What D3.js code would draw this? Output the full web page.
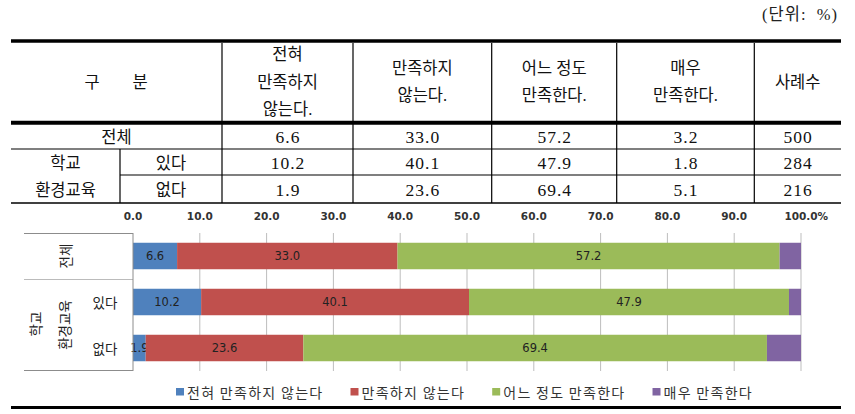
<!DOCTYPE html>
<html><head><meta charset="utf-8">
<script src="https://cdn.jsdelivr.net/npm/d3@7"></script>
<style>
body{margin:0;background:#fff;}
svg{display:block;}
</style></head>
<body>
<script>
// ---- data ----
const rowLabels = ["전체", "있다", "없다"];
const groupLabel = ["학교", "환경교육"];
const seriesNames = ["전혀 만족하지 않는다", "만족하지 않는다", "어느 정도 만족한다", "매우 만족한다"];
const headerLines = [["전혀", "만족하지", "않는다."], ["만족하지", "않는다."], ["어느 정도", "만족한다."], ["매우", "만족한다."], ["사례수"]];
const notAtAll = [6.6, 10.2, 1.9];
const notSatisfied = [33.0, 40.1, 23.6];
const somewhat = [57.2, 47.9, 69.4];
const very = [3.2, 1.8, 5.1];
const cases = [500, 284, 216];
const xTicks = [0, 10, 20, 30, 40, 50, 60, 70, 80, 90, 100];
const colors = ["#4F81BD", "#C0504D", "#9BBB59", "#8064A2"];
const showLabel = [true, true, true, false];

const W = 855, H = 414;
const svg = d3.select("body").append("svg").attr("width", W).attr("height", H);

const tFont = "'Liberation Serif','Noto Sans CJK KR',serif";
const kFont = "'Noto Sans CJK KR',sans-serif";

// unit label
svg.append("text").attr("x", 838).attr("y", 14).attr("text-anchor", "end")
  .attr("dominant-baseline", "central").style("font-family", tFont).style("font-size", "16.5px")
  .style("letter-spacing", "1px").attr("fill", "#222").attr("xml:space", "preserve").text("(단위:  %)");

// ---- table ----
const L = 11, R = 841;
const colB = [L, 222, 353, 491.7, 616.7, 754.3, R];
const tbl = svg.append("g");
const line = (x1, y1, x2, y2, w) => tbl.append("line").attr("x1", x1).attr("y1", y1).attr("x2", x2).attr("y2", y2)
  .attr("stroke", "#000").attr("stroke-width", w);
line(L, 41, R, 41, 3.5);
line(L, 122.7, R, 122.7, 4);
line(L, 149, R, 149, 1.2);
line(120, 175, R, 175, 1.2);
line(L, 203, R, 203, 1.5);
colB.slice(1, -1).forEach(x => line(x, 43, x, 203, 1.2));
line(120, 149, 120, 203, 1.2);

const ttext = (x, y, t, num) => {
  const e = tbl.append("text").attr("x", x).attr("y", y).attr("text-anchor", "middle")
    .attr("dominant-baseline", "central").style("font-family", tFont).style("font-size", num ? "17.5px" : "16.5px")
    .attr("fill", "#111").text(t);
  if (num) e.style("letter-spacing", "1px").attr("dx", 0.5);
  return e;
};

// 구 분
ttext(92, 82, "구"); ttext(140, 82, "분");
// header columns
const hc = 82, lh = 27.5;
headerLines.forEach((lines, i) => {
  const cx = (colB[i + 1] + colB[i + 2]) / 2;
  lines.forEach((s, j) => ttext(cx, hc + (j - (lines.length - 1) / 2) * lh, s));
});
// rows
const rowC = [137, 163, 190];
ttext((L + 222) / 2, rowC[0], rowLabels[0]);
ttext((120 + 222) / 2, rowC[1], rowLabels[1]);
ttext((120 + 222) / 2, rowC[2], rowLabels[2]);
ttext((L + 120) / 2, rowC[1], groupLabel[0]);
ttext((L + 120) / 2, rowC[2], groupLabel[1]);
const seriesVals = [notAtAll, notSatisfied, somewhat, very];
const fmt = d3.format(".1f");
rowLabels.forEach((r, ri) => {
  seriesVals.forEach((arr, si) => {
    ttext((colB[si + 1] + colB[si + 2]) / 2, rowC[ri], fmt(arr[ri]), true);
  });
  ttext((colB[5] + colB[6]) / 2, rowC[ri], cases[ri], true);
});

// ---- chart ----
const x = d3.scaleLinear().domain([0, 100]).range([133, 801]);
const y = d3.scaleBand().domain(rowLabels).range([233, 371]).paddingInner(0.424).paddingOuter(0.212);
const ch = svg.append("g");

// gridlines
ch.selectAll("line.grid").data(xTicks.slice(1)).join("line")
  .attr("x1", d => x(d)).attr("x2", d => x(d)).attr("y1", 233).attr("y2", 371)
  .attr("stroke", "#BDBDBD").attr("stroke-width", 1);

// tick labels
const tickG = ch.selectAll("g.tick").data(xTicks).join("g");
tickG.append("text").attr("x", d => x(d)).attr("y", 216).attr("text-anchor", "middle")
  .attr("dominant-baseline", "central").style("font-family", "'DejaVu Sans',sans-serif")
  .style("font-size", "10.5px").style("font-weight", "bold").attr("fill", "#333").text(d => fmt(d))
  .each(function (d) {
    if (d === 100) {
      const w = this.getComputedTextLength();
      d3.select(this.parentNode).append("text").attr("x", x(d) + w / 2).attr("y", 216)
        .attr("dominant-baseline", "central").style("font-family", "'DejaVu Sans',sans-serif")
        .style("font-size", "10.5px").style("font-weight", "bold").attr("fill", "#333").text("%");
    }
  });

// stacked bars
const stackData = rowLabels.map((r, i) => ({ row: r, s0: notAtAll[i], s1: notSatisfied[i], s2: somewhat[i], s3: very[i] }));
const stack = d3.stack().keys(["s0", "s1", "s2", "s3"])(stackData);
stack.forEach((layer, si) => {
  const g = ch.append("g");
  g.selectAll("rect").data(layer).join("rect")
    .attr("x", d => x(d[0])).attr("width", d => x(Math.min(d[1], 100)) - x(d[0]))
    .attr("y", d => y(d.data.row)).attr("height", y.bandwidth())
    .attr("fill", colors[si]);
  if (showLabel[si]) {
    g.selectAll("text").data(layer).join("text")
      .attr("x", d => (x(d[0]) + x(d[1])) / 2).attr("y", d => y(d.data.row) + y.bandwidth() / 2)
      .attr("text-anchor", "middle").attr("dominant-baseline", "central")
      .style("font-family", "'DejaVu Sans',sans-serif").style("font-size", "11.5px").attr("fill", "#222")
      .text(d => fmt(d[1] - d[0]));
  }
});

// category panel
const pc = "#8C8C8C";
ch.append("line").attr("x1", 24).attr("x2", 133).attr("y1", 233.5).attr("y2", 233.5).attr("stroke", pc);
ch.append("line").attr("x1", 24).attr("x2", 133).attr("y1", 279.5).attr("y2", 279.5).attr("stroke", "#BBBBBB");
ch.append("line").attr("x1", 24).attr("x2", 133).attr("y1", 370.5).attr("y2", 370.5).attr("stroke", pc);
ch.append("line").attr("x1", 133).attr("x2", 133).attr("y1", 233).attr("y2", 371).attr("stroke", pc);

const ktext = (xx, yy, t, rot) => {
  const e = ch.append("text").attr("text-anchor", "middle").attr("dominant-baseline", "central")
    .style("font-family", kFont).style("font-size", "13.5px").attr("fill", "#222").text(t);
  if (rot) e.attr("transform", `translate(${xx},${yy}) rotate(-90)`);
  else e.attr("x", xx).attr("y", yy);
};
ktext(65, y(rowLabels[0]) + y.bandwidth() / 2, rowLabels[0], true);
ktext(35, 324, groupLabel[0], true);
ktext(64, 325, groupLabel[1], true);
ktext(105, y(rowLabels[1]) + y.bandwidth() / 2, rowLabels[1], false);
ktext(105, y(rowLabels[2]) + y.bandwidth() / 2, rowLabels[2], false);

// legend
let lx = 176;
seriesNames.forEach((n, i) => {
  const g = ch.append("g");
  g.append("rect").attr("x", lx).attr("y", 388).attr("width", 8).attr("height", 7.5).attr("fill", colors[i]);
  const t = g.append("text").attr("x", lx + 11).attr("y", 392).attr("dominant-baseline", "central")
    .style("font-family", kFont).style("font-size", "14px").style("letter-spacing", "1.3px")
    .attr("fill", "#333").text(n);
  lx += 11 + t.node().getComputedTextLength() + 27;
});

// bottom rule
svg.append("line").attr("x1", L).attr("x2", R).attr("y1", 407.5).attr("y2", 407.5)
  .attr("stroke", "#000").attr("stroke-width", 3);
</script>
</body></html>
